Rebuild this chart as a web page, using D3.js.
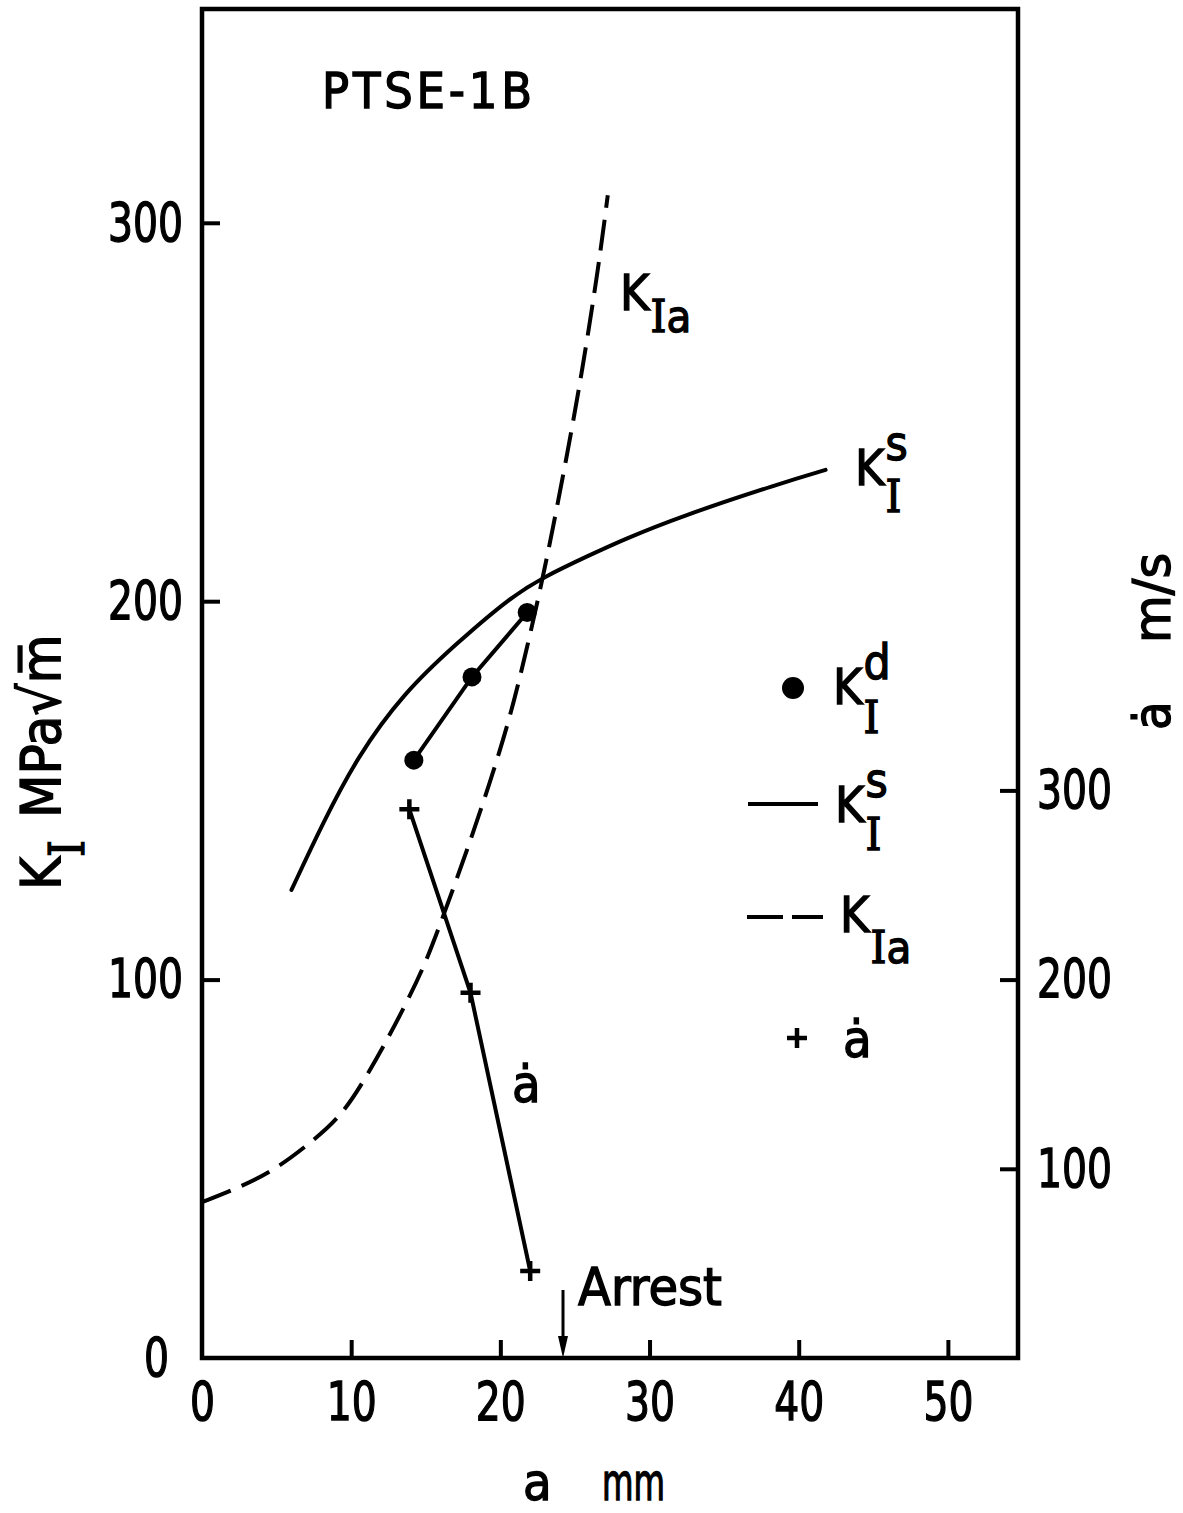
<!DOCTYPE html>
<html>
<head>
<meta charset="utf-8">
<script src="https://cdn.jsdelivr.net/npm/d3@7"></script>
<style>
  body { margin: 0; background: #fff; }
  text { font-family: "DejaVu Sans Condensed", "DejaVu Sans", sans-serif; fill: #000; stroke: #000; stroke-width: 1.3px; }
  .serif { font-family: "DejaVu Serif Condensed", "DejaVu Serif", serif; }
</style>
</head>
<body>
<svg id="chart"></svg>
<script>
// crack length a (mm) vs stress intensity K_I (MPa sqrt m) and crack speed (m/s)
var kdCrack = [14.2, 18.1, 21.8];
var kdValues = [158, 180, 197];

var speedCrack = [13.9, 18.0, 22.0];
var speedValues = [290, 193, 46];

var ksCrack = [6.0, 8.1, 10.4, 13.5, 17.1, 20.7, 22.9, 26.0, 28.2, 32.0, 38.8, 41.8];
var ksValues = [123.7, 141.4, 158.8, 175.7, 189.0, 201.1, 206.4, 212.2, 216.2, 222.3, 231.2, 234.7];

var kiaCrack = [0, 2.1, 4.7, 7.1, 9.3, 10.9, 12.4, 13.7, 15.0, 16.2, 17.8, 19.3, 20.7, 21.8, 22.7, 23.5, 24.5, 25.5, 26.6, 27.2];
var kiaValues = [41.2, 44.4, 49.2, 56.3, 63.7, 73.5, 84.0, 93.8, 104.4, 117.1, 134.5, 152.0, 169.9, 187.9, 203.5, 218.8, 239.2, 261.1, 288.8, 307.3];

var arrestAt = 24.2;

var xTicks = [0, 10, 20, 30, 40, 50];
var kTicks = [0, 100, 200, 300];
var speedTicks = [100, 200, 300];

var width = 1183, height = 1513;
var plotL = 202, plotR = 1018, plotT = 9, plotB = 1358;

var svg = d3.select("#chart")
    .attr("width", width)
    .attr("height", height);

svg.append("rect").attr("width", width).attr("height", height).attr("fill", "#fff");

var xScale = d3.scaleLinear().domain([0, 54.7]).range([plotL, plotR]);
var kScale = d3.scaleLinear().domain([0, 356.5]).range([plotB, plotT]);
var vScale = d3.scaleLinear().domain([0, 713]).range([plotB, plotT]);

var tickFont = 54;

// axes, ticks point inward
var xAxis = svg.append("g")
    .attr("transform", "translate(0," + plotB + ")")
    .call(d3.axisBottom(xScale).tickValues(xTicks).tickSize(-18).tickPadding(24));
var kAxis = svg.append("g")
    .attr("transform", "translate(" + plotL + ",0)")
    .call(d3.axisLeft(kScale).tickValues(kTicks).tickSize(-18).tickPadding(19));
var vAxis = svg.append("g")
    .attr("transform", "translate(" + plotR + ",0)")
    .call(d3.axisRight(vScale).tickValues(speedTicks).tickSize(-18).tickPadding(19));

[xAxis, kAxis, vAxis].forEach(function(ax){
    ax.attr("font-family", null).attr("font-size", null);
    ax.select(".domain").remove();
    ax.selectAll(".tick line").attr("stroke", "#000").attr("stroke-width", 4);
    ax.selectAll(".tick text")
        .attr("font-size", tickFont)
        .attr("fill", "#000")
        .attr("textLength", function(d){ return String(d).length * 25; })
        .attr("lengthAdjust", "spacingAndGlyphs");
});
kAxis.selectAll(".tick").filter(function(d){ return d === 0; }).select("line").remove();
kAxis.selectAll(".tick").filter(function(d){ return d === 0; }).select("text").attr("x", -33);
xAxis.selectAll(".tick").filter(function(d){ return d === 0; }).select("line").remove();

// frame
svg.append("rect")
    .attr("x", plotL).attr("y", plotT)
    .attr("width", plotR - plotL).attr("height", plotB - plotT)
    .attr("fill", "none").attr("stroke", "#000").attr("stroke-width", 4.5);

var toPts = function(xs, ys){
    return xs.map(function(x, i){ return [x, ys[i]]; });
};

var kLine = d3.line()
    .x(function(d){ return xScale(d[0]); })
    .y(function(d){ return kScale(d[1]); })
    .curve(d3.curveBasis);

var vLine = d3.line()
    .x(function(d){ return xScale(d[0]); })
    .y(function(d){ return vScale(d[1]); });

// K_I^s static
svg.append("path")
    .datum(toPts(ksCrack, ksValues))
    .attr("d", kLine)
    .attr("fill", "none").attr("stroke", "#000").attr("stroke-width", 4)
    .attr("stroke-linecap", "round");

// K_Ia dashed
svg.append("path")
    .datum(toPts(kiaCrack, kiaValues))
    .attr("d", kLine)
    .attr("fill", "none").attr("stroke", "#000").attr("stroke-width", 4)
    .attr("stroke-dasharray", "31,12");

// K_I^d dynamic points
var kdPts = toPts(kdCrack, kdValues);
svg.append("path")
    .datum(kdPts)
    .attr("d", d3.line().x(function(d){ return xScale(d[0]); }).y(function(d){ return kScale(d[1]); }))
    .attr("fill", "none").attr("stroke", "#000").attr("stroke-width", 4);
svg.selectAll(".kd")
    .data(kdPts)
    .enter()
    .append("circle")
    .attr("class", "kd")
    .attr("cx", function(d){ return xScale(d[0]); })
    .attr("cy", function(d){ return kScale(d[1]); })
    .attr("r", 9.5)
    .attr("fill", "#000");

// crack speed
var vPts = toPts(speedCrack, speedValues);
svg.append("path")
    .datum(vPts)
    .attr("d", vLine)
    .attr("fill", "none").attr("stroke", "#000").attr("stroke-width", 4);
var drawPlus = function(x, y){
    svg.append("path")
        .attr("d", "M" + (x - 10) + "," + y + "H" + (x + 10) + "M" + x + "," + (y - 10) + "V" + (y + 10))
        .attr("stroke", "#000").attr("stroke-width", 4.5).attr("fill", "none");
};
vPts.forEach(function(d){ drawPlus(xScale(d[0]), vScale(d[1])); });

// arrest marker
var ax0 = xScale(arrestAt);
svg.append("line")
    .attr("x1", ax0).attr("x2", ax0)
    .attr("y1", plotB - 68).attr("y2", plotB - 12)
    .attr("stroke", "#000").attr("stroke-width", 3);
svg.append("path")
    .attr("d", "M" + (ax0 - 5) + "," + (plotB - 22) + "L" + (ax0 + 5) + "," + (plotB - 22) + "L" + ax0 + "," + plotB + "Z")
    .attr("fill", "#000");
svg.append("text")
    .attr("x", 578).attr("y", 1305)
    .attr("font-size", 52)
    .attr("textLength", 144).attr("lengthAdjust", "spacingAndGlyphs")
    .text("Arrest");

// K with stacked sup / sub (sub is a serif I)
var kLabel = function(x, y, size, sup, sub, subDy){
    var k = svg.append("text").attr("x", x).attr("y", y).attr("font-size", size).text("K");
    var w = k.node().getComputedTextLength();
    if (sup) {
        svg.append("text").attr("x", x + w + 1).attr("y", y - size * 0.5)
            .attr("font-size", size * 0.95).text(sup);
    }
    if (sub) {
        var t = svg.append("text").attr("x", x + w + 1).attr("y", y + subDy)
            .attr("font-size", size * 0.9);
        t.append("tspan").attr("class", "serif").text("I");
        if (sub.length > 1) t.append("tspan").text(sub.slice(1));
    }
};

// title
svg.append("text")
    .attr("x", 322).attr("y", 108)
    .attr("font-size", 50)
    .attr("textLength", 210).attr("lengthAdjust", "spacing")
    .text("PTSE-1B");

// curve labels
kLabel(620, 310, 50, null, "Ia", 22);
kLabel(855, 485, 50, "s", "I", 27);
svg.append("text").attr("x", 512).attr("y", 1102).attr("font-size", 52).text("ȧ");

// legend
svg.append("circle").attr("cx", 793).attr("cy", 688).attr("r", 11).attr("fill", "#000");
kLabel(833, 704, 50, "d", "I", 29);
svg.append("line").attr("x1", 748).attr("x2", 818).attr("y1", 804).attr("y2", 804)
    .attr("stroke", "#000").attr("stroke-width", 4);
kLabel(835, 822, 50, "s", "I", 28);
svg.append("line").attr("x1", 747).attr("x2", 823).attr("y1", 917).attr("y2", 917)
    .attr("stroke", "#000").attr("stroke-width", 4).attr("stroke-dasharray", "36,9");
kLabel(840, 932, 50, null, "Ia", 31);
drawPlus(797, 1038);
svg.append("text").attr("x", 843).attr("y", 1057).attr("font-size", 52).text("ȧ");

// axis titles
var yTitle = svg.append("text")
    .attr("transform", "translate(60,890) rotate(-90)")
    .attr("font-size", 56);
yTitle.append("tspan").text("K");
yTitle.append("tspan").attr("class", "serif").attr("dy", 24).attr("font-size", 48).text("I");
yTitle.append("tspan").attr("dy", -24).attr("dx", 22).text("MPa√m\u0305");

var vTitle = svg.append("text")
    .attr("transform", "translate(1170,730) rotate(-90)")
    .attr("font-size", 52);
vTitle.append("tspan").text("ȧ");
vTitle.append("tspan").attr("x", 87).attr("textLength", 90).attr("lengthAdjust", "spacingAndGlyphs").text("m/s");

var xTitle = svg.append("text")
    .attr("y", 1500)
    .attr("font-size", 52);
xTitle.append("tspan").attr("x", 523).text("a");
xTitle.append("tspan").attr("x", 602).attr("textLength", 63).attr("lengthAdjust", "spacingAndGlyphs").text("mm");
</script>
</body>
</html>
